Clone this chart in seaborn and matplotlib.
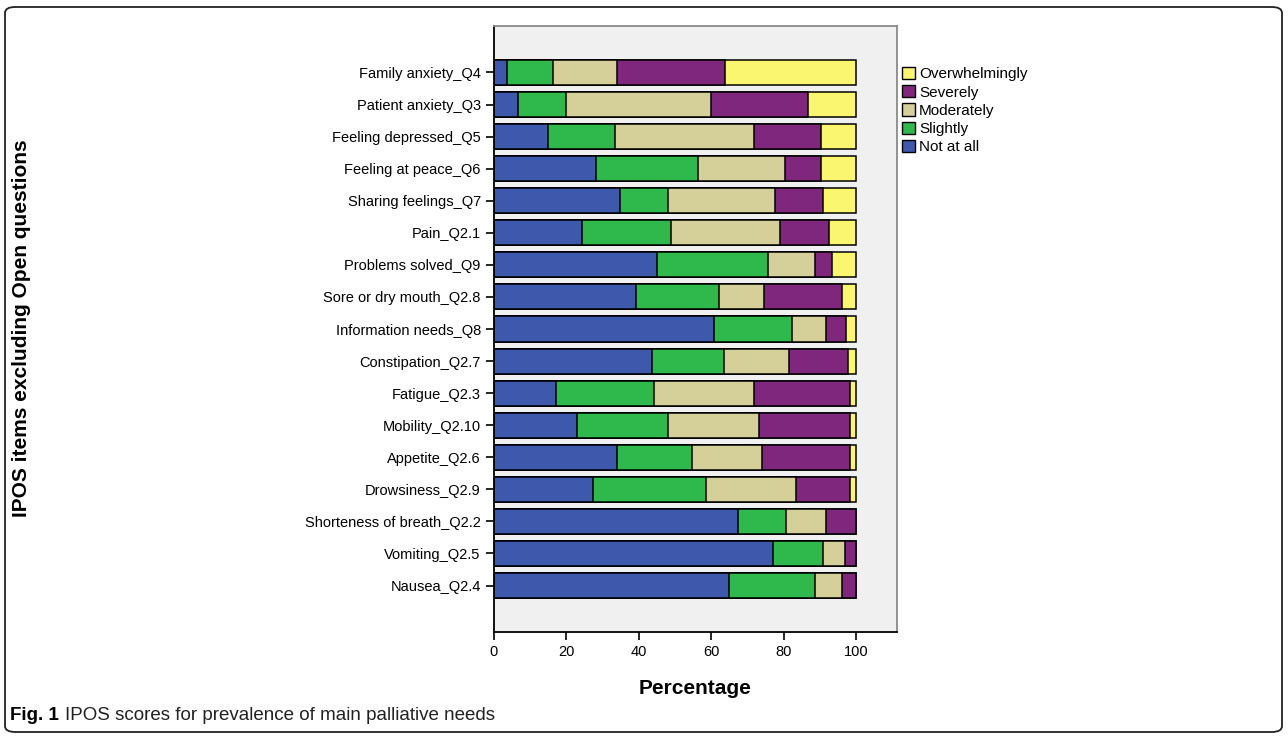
import numpy as np
import pandas as pd
import matplotlib.pyplot as plt
from matplotlib.patches import FancyBboxPatch, Patch
import seaborn as sns

# Items, top to bottom
items = [
    "Family anxiety_Q4", "Patient anxiety_Q3", "Feeling depressed_Q5",
    "Feeling at peace_Q6", "Sharing feelings_Q7", "Pain_Q2.1",
    "Problems solved_Q9", "Sore or dry mouth_Q2.8", "Information needs_Q8",
    "Constipation_Q2.7", "Fatigue_Q2.3", "Mobility_Q2.10", "Appetite_Q2.6",
    "Drowsiness_Q2.9", "Shorteness of breath_Q2.2", "Vomiting_Q2.5",
    "Nausea_Q2.4",
]

# Percentages
not_at_all = [3.6, 6.6, 14.9, 28.2, 34.7, 24.3, 45.1, 39.2, 60.8, 43.6,
              17.0, 22.9, 33.9, 27.4, 67.3, 77.0, 65.0]
slightly = [12.7, 13.4, 18.4, 28.1, 13.4, 24.6, 30.5, 23.0, 21.4, 20.0,
            27.2, 25.2, 20.7, 31.1, 13.3, 13.9, 23.6]
moderately = [17.6, 40.0, 38.5, 24.2, 29.5, 30.2, 13.0, 12.5, 9.5, 17.8,
              27.6, 25.0, 19.5, 25.0, 11.1, 6.1, 7.5]
severely = [29.9, 26.7, 18.5, 9.7, 13.3, 13.4, 4.7, 21.5, 5.4, 16.3,
            26.6, 25.3, 24.3, 14.9, 8.3, 3.0, 3.9]
overwhelmingly = [36.2, 13.3, 9.7, 9.8, 9.1, 7.5, 6.7, 3.8, 2.9, 2.3,
                  1.6, 1.6, 1.6, 1.6, 0.0, 0.0, 0.0]

levels = ["Not at all", "Slightly", "Moderately", "Severely", "Overwhelmingly"]
colors = {
    "Not at all": "#3e58ac",
    "Slightly": "#2fb84b",
    "Moderately": "#d5cf99",
    "Severely": "#7e277c",
    "Overwhelmingly": "#fbf66f",
}

df = pd.DataFrame({
    "Item": items,
    "Not at all": not_at_all,
    "Slightly": slightly,
    "Moderately": moderately,
    "Severely": severely,
    "Overwhelmingly": overwhelmingly,
})
# cumulative ends, drawn from the widest down so the segments stack
cum = df[levels].cumsum(axis=1)
cum["Item"] = items

sns.set_style("ticks")
plt.rcParams["font.family"] = ["Liberation Sans", "DejaVu Sans"]
plt.rcParams["text.color"] = "black"
plt.rcParams["axes.labelcolor"] = "black"

fig = plt.figure(figsize=(12.88, 7.4), dpi=100)
ax = fig.add_axes([0.3835, 0.1459, 0.3129, 0.819])
ax.set_facecolor("#f0f0f0")

for lvl in reversed(levels):
    sns.barplot(data=cum, x=lvl, y="Item", order=items, orient="h",
                color=colors[lvl], saturation=1, edgecolor="black",
                linewidth=1.1, width=0.78, ax=ax)

ax.set_xlim(0, 111.3)
ax.set_ylim(len(items) - 1 + 1.45, -1.45)
ax.set_xticks([0, 20, 40, 60, 80, 100])
ax.tick_params(axis="both", direction="out", length=6, width=1.2,
               color="black", labelsize=10.5, labelcolor="black")

for side in ["left", "bottom"]:
    ax.spines[side].set_color("black")
    ax.spines[side].set_linewidth(1.3)
for side in ["top", "right"]:
    ax.spines[side].set_visible(True)
    ax.spines[side].set_color("#8a8a8a")
    ax.spines[side].set_linewidth(1.3)

ax.set_xlabel("Percentage", fontsize=15, fontweight="bold", labelpad=14)
ax.set_ylabel("")
fig.text(22 / 1288, 1 - 328 / 740, "IPOS items excluding Open questions",
         rotation=90, ha="center", va="center", fontsize=15,
         fontweight="bold")

handles = [Patch(facecolor=colors[l], edgecolor="black", linewidth=1)
           for l in reversed(levels)]
ax.legend(handles, list(reversed(levels)), loc="upper left",
          bbox_to_anchor=(1.0, 0.94), frameon=False, fontsize=11,
          handlelength=0.85, handleheight=0.85, handletextpad=0.3,
          labelspacing=0.25, borderaxespad=0.3, borderpad=0.0)

# rounded frame round the whole figure
frame = FancyBboxPatch((5 / 1288, 8 / 740), 1277 / 1288, 725 / 740,
                       boxstyle="round,pad=0,rounding_size=0.008",
                       transform=fig.transFigure, facecolor="none",
                       edgecolor="#222222", linewidth=1.3)
fig.patches.append(frame)

fig.text(10 / 1288, 1 - 715 / 740, "Fig. 1", fontsize=13.5,
         fontweight="bold", va="center", ha="left")
fig.text(65 / 1288, 1 - 715 / 740,
         "IPOS scores for prevalence of main palliative needs",
         fontsize=13.5, va="center", ha="left", color="#222222")

fig.savefig("out.png", dpi=100)
